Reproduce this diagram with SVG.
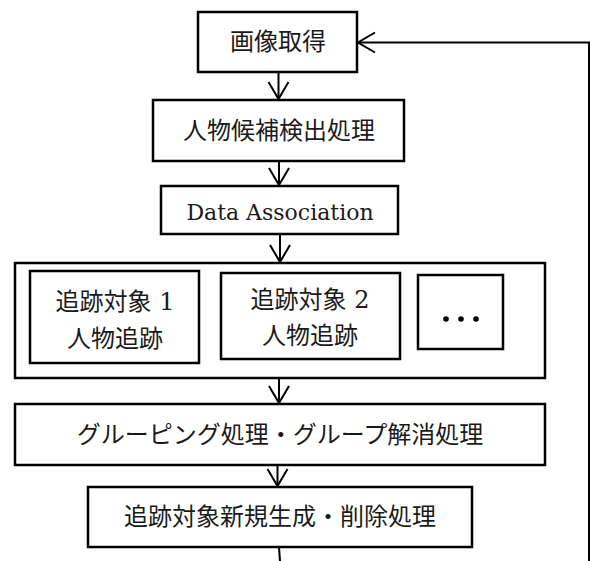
<svg xmlns="http://www.w3.org/2000/svg" width="590" height="561" viewBox="0 0 590 561">
<style>
.box{fill:#fff;stroke:#000;stroke-width:2.5}
.t{font-family:"DejaVu Serif","Noto Sans CJK JP",serif;font-size:24px;fill:#1a1a1a;text-anchor:middle;dominant-baseline:central}
.en{font-family:"DejaVu Serif",serif;font-size:22px;fill:#1a1a1a;text-anchor:middle}
.c{fill:none;stroke:#000;stroke-width:2}
</style>
<defs>
<marker id="ah" viewBox="-20 -12 24 24" refX="0" refY="0" markerWidth="24" markerHeight="24" markerUnits="userSpaceOnUse" orient="auto" overflow="visible">
<path d="M-17,-10 L0,0 L-17,10" fill="none" stroke="#000" stroke-width="2"/>
</marker>
</defs>
<g id="connectors">
<line class="c" x1="278.5" y1="72" x2="278.5" y2="99" marker-end="url(#ah)"/>
<line class="c" x1="279" y1="161" x2="279" y2="185" marker-end="url(#ah)"/>
<line class="c" x1="280" y1="234" x2="280" y2="262" marker-end="url(#ah)"/>
<line class="c" x1="279" y1="378" x2="279" y2="403" marker-end="url(#ah)"/>
<line class="c" x1="277.5" y1="465" x2="277.5" y2="486" marker-end="url(#ah)"/>
<line class="c" x1="279" y1="547" x2="280" y2="561"/>
<polyline class="c" points="589,561 589,42.5 358,42.5" style="stroke-width:2" marker-end="url(#ah)"/>
</g>
<g id="n1">
<rect class="box" x="198" y="12" width="159" height="60"/>
<text class="t" x="278" y="42">画像取得</text>
</g>
<g id="n2">
<rect class="box" x="153" y="100" width="251" height="61"/>
<text class="t" x="279" y="131">人物候補検出処理</text>
</g>
<g id="n3">
<rect class="box" x="161" y="186" width="237" height="48"/>
<text class="en" x="280" y="220">Data Association</text>
</g>
<g id="n4">
<rect class="box" x="15" y="263" width="530" height="115"/>
</g>
<g id="n5">
<rect class="box" x="30" y="271" width="169" height="92"/>
<text class="t" x="115" y="302">追跡対象 1</text>
<text class="t" x="115" y="339">人物追跡</text>
</g>
<g id="n6">
<rect class="box" x="221" y="273" width="179" height="86"/>
<text class="t" x="310" y="300">追跡対象 2</text>
<text class="t" x="310" y="336">人物追跡</text>
</g>
<g id="n7">
<rect class="box" x="418" y="275" width="85" height="74"/>
<circle cx="446" cy="319" r="2.8"/>
<circle cx="461" cy="319" r="2.8"/>
<circle cx="476" cy="319" r="2.8"/>
</g>
<g id="n8">
<rect class="box" x="15" y="404" width="530" height="61"/>
<text class="t" x="280" y="435">グルーピング処理・グループ解消処理</text>
</g>
<g id="n9">
<rect class="box" x="88" y="487" width="384" height="60"/>
<text class="t" x="280" y="517">追跡対象新規生成・削除処理</text>
</g>
</svg>
